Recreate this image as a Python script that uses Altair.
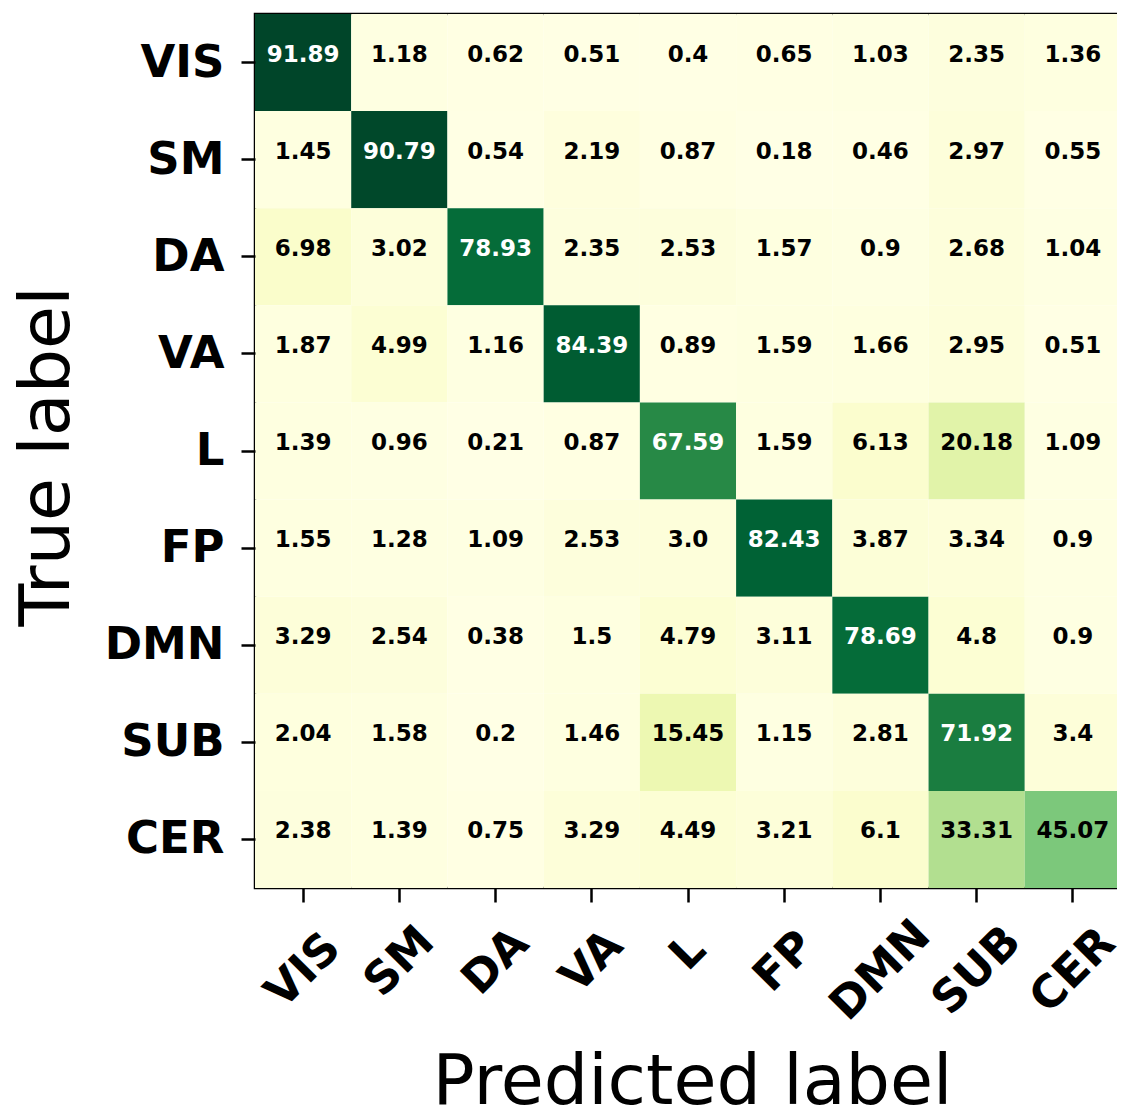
import altair as alt
import pandas as pd

labels = ["VIS", "SM", "DA", "VA", "L", "FP", "DMN", "SUB", "CER"]

row_vis = [91.89, 1.18, 0.62, 0.51, 0.4, 0.65, 1.03, 2.35, 1.36]
row_sm = [1.45, 90.79, 0.54, 2.19, 0.87, 0.18, 0.46, 2.97, 0.55]
row_da = [6.98, 3.02, 78.93, 2.35, 2.53, 1.57, 0.9, 2.68, 1.04]
row_va = [1.87, 4.99, 1.16, 84.39, 0.89, 1.59, 1.66, 2.95, 0.51]
row_l = [1.39, 0.96, 0.21, 0.87, 67.59, 1.59, 6.13, 20.18, 1.09]
row_fp = [1.55, 1.28, 1.09, 2.53, 3.0, 82.43, 3.87, 3.34, 0.9]
row_dmn = [3.29, 2.54, 0.38, 1.5, 4.79, 3.11, 78.69, 4.8, 0.9]
row_sub = [2.04, 1.58, 0.2, 1.46, 15.45, 1.15, 2.81, 71.92, 3.4]
row_cer = [2.38, 1.39, 0.75, 3.29, 4.49, 3.21, 6.1, 33.31, 45.07]

rows = [row_vis, row_sm, row_da, row_va, row_l, row_fp, row_dmn, row_sub, row_cer]

# matplotlib YlGn colormap stops
ylgn = ["#ffffe5", "#f7fcb9", "#d9f0a3", "#addd8e", "#78c679",
        "#41ab5d", "#238443", "#006837", "#004529"]

records = []
for t, row in zip(labels, rows):
    for p, v in zip(labels, row):
        records.append({"true": t, "pred": p, "value": v, "txt": str(v)})
df = pd.DataFrame(records)

vmin = float(df["value"].min())
vmax = float(df["value"].max())
stops = [vmin + i * (vmax - vmin) / (len(ylgn) - 1) for i in range(len(ylgn))]
thresh = vmax / 2.0

FONT = "DejaVu Sans"

x_enc = alt.X(
    "pred:N", sort=labels,
    scale=alt.Scale(paddingInner=0, paddingOuter=0),
    axis=alt.Axis(
        title="Predicted label",
        titleFont=FONT, titleFontSize=70, titleFontWeight="normal",
        titleColor="black", titleAngle=0, titleAlign="center",
        titleBaseline="alphabetic", titleX=437, titleY=215,
        labelFont=FONT, labelFontSize=45, labelFontWeight="bold",
        labelColor="black", labelAngle=315, labelAlign="center",
        labelBaseline="middle",
        labelPadding={"expr": "41 + 9 * length(datum.label)"},
        labelOverlap=False, labelBound=False, labelFlush=False,
        tickSize=14, tickWidth=2.5, tickColor="black",
        domain=False, grid=False,
    ),
)
y_enc = alt.Y(
    "true:N", sort=labels,
    scale=alt.Scale(paddingInner=0, paddingOuter=0),
    axis=alt.Axis(
        title="True label",
        titleFont=FONT, titleFontSize=70, titleFontWeight="normal",
        titleColor="black", titleAngle=270, titleAlign="center",
        titleBaseline="alphabetic", titleX=-187, titleY=442,
        labelFont=FONT, labelFontSize=45, labelFontWeight="bold",
        labelColor="black", labelPadding=17,
        labelOverlap=False, labelBound=False, labelFlush=False,
        tickSize=14, tickWidth=2.5, tickColor="black",
        domain=False, grid=False,
    ),
)

base = alt.Chart(df).encode(x=x_enc, y=y_enc)

cells = base.mark_rect().encode(
    color=alt.Color(
        "value:Q",
        scale=alt.Scale(domain=stops, range=ylgn, interpolate="rgb"),
        legend=None,
    )
)

texts = base.mark_text(
    font=FONT, fontWeight="bold", fontSize=23, baseline="alphabetic", dy=-1
).encode(
    text="txt:N",
    color=alt.condition(alt.datum.value > thresh, alt.value("white"), alt.value("black")),
)

chart = (
    alt.layer(cells, texts)
    .properties(
        width=866, height=874,
        autosize=alt.AutoSizeParams(type="none"),
        padding={"left": 247, "top": 6, "right": -4, "bottom": 217},
        background="white",
    )
    .configure_view(stroke="black", strokeWidth=2.5)
)

chart.save("out.html", embed_options={"renderer": "svg", "actions": False})
